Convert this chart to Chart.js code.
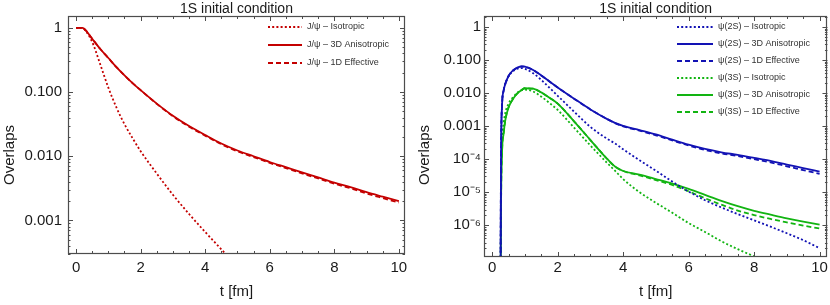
<!DOCTYPE html>
<html>
<head>
<meta charset="utf-8">
<script src="https://cdn.jsdelivr.net/npm/chart.js@4/dist/chart.umd.min.js"></script>
<style>
html, body { margin: 0; padding: 0; background: #fff; }
#wrap { display: flex; width: 830px; height: 305px; }
canvas { display: block; }
</style>
</head>
<body>
<div id="wrap">
  <canvas id="leftChart" width="415" height="305"></canvas>
  <canvas id="rightChart" width="415" height="305"></canvas>
</div>
<script>
//DATA
//left panel: J/psi overlaps, time in fm
const timeLeft = [0, 0.2, 0.3, 0.5, 0.75, 1, 1.25, 1.5, 1.75, 2, 2.5, 3, 3.5, 4, 4.5, 5, 5.5, 6, 6.5, 7, 7.5, 8, 8.5, 9, 9.5, 10];
const jpsiIso = [1, 1, 0.891, 0.603, 0.269, 0.117, 0.0575, 0.0316, 0.0191, 0.0120, 0.00537, 0.00251, 0.00126, 0.000661, 0.000355, 0.000191,
    null, null, null, null, null, null, null, null, null, null];
const jpsi3D = [1, 1, 0.912, 0.676, 0.468, 0.339, 0.245, 0.182, 0.138, 0.107, 0.0661, 0.0427, 0.0295, 0.0214, 0.0158, 0.0123,
    0.0100, 0.00813, 0.00676, 0.00562, 0.00468, 0.00389, 0.00331, 0.00275, 0.00234, 0.00200];
const jpsi1D = [1, 1, 0.912, 0.676, 0.468, 0.339, 0.245, 0.182, 0.138, 0.107, 0.0655, 0.0420, 0.0289, 0.0209, 0.0154, 0.0119,
    0.0097, 0.00788, 0.00653, 0.00542, 0.00450, 0.00374, 0.00317, 0.00263, 0.00223, 0.00190];

//right panel: psi(2S) and psi(3S) overlaps
const timeRight = [0.25, 0.27, 0.3, 0.35, 0.4, 0.5, 0.6, 0.7, 0.8, 0.9, 1, 1.25, 1.5, 1.75, 2, 2.5, 3, 3.5, 3.75, 4, 4.5, 5, 5.5, 6, 6.5, 7, 7.5, 8, 8.5, 9, 9.5, 10];
const psi2SIso = [1e-9, 1e-4, 0.004, 0.012, 0.019, 0.032, 0.043, 0.051, 0.056, 0.057, 0.054, 0.040, 0.025, 0.0145, 0.0083, 0.00275, 0.00095, 0.00042, 0.0003, 0.0002,
    0.000093, 0.000045, 0.000021, 0.0000105, 0.00000575, 0.00000347, 0.00000219, 0.00000141, 0.00000091, 0.000000575, 0.000000355, 0.000000204];
const psi2S3D = [1e-9, 1e-4, 0.004, 0.012, 0.019, 0.033, 0.045, 0.054, 0.061, 0.064, 0.063, 0.050, 0.034, 0.0224, 0.0148, 0.0068, 0.0032, 0.00166, 0.00126, 0.00102,
    0.00076, 0.00056, 0.00039, 0.000275, 0.000204, 0.000162, 0.000135, 0.00011, 0.000089, 0.000069, 0.000054, 0.000042];
const psi2S1D = [1e-9, 1e-4, 0.004, 0.012, 0.019, 0.033, 0.045, 0.054, 0.061, 0.064, 0.063, 0.050, 0.034, 0.0224, 0.0148, 0.0068, 0.0032, 0.00166, 0.00124, 0.00099,
    0.00073, 0.00053, 0.00037, 0.00026, 0.00019, 0.00015, 0.000124, 0.0001, 0.00008, 0.000061, 0.000047, 0.000036];
const psi3SIso = [1e-10, 1e-5, 3e-4, 0.0012, 0.0025, 0.0048, 0.0068, 0.0088, 0.0108, 0.0122, 0.0127, 0.0112, 0.0078, 0.0050, 0.0031, 0.0009, 0.00026, 0.000079, 0.000045, 0.000025,
    0.00001, 0.0000048, 0.0000024, 0.00000117, 0.00000063, 0.00000033, 0.00000019, 0.000000115, 0.00000007, null, null, null];
const psi3S3D = [1e-10, 3e-6, 1.5e-4, 6e-4, 0.0015, 0.0037, 0.0058, 0.0082, 0.0105, 0.0125, 0.0140, 0.0136, 0.0105, 0.0072, 0.0048, 0.0014, 0.00038, 0.000105, 0.00006, 0.000044,
    0.000034, 0.000025, 0.0000182, 0.0000126, 0.0000083, 0.0000055, 0.0000038, 0.00000275, 0.0000021, 0.00000162, 0.00000129, 0.00000105];
const psi3S1D = [1e-10, 3e-6, 1.5e-4, 6e-4, 0.0015, 0.0037, 0.0058, 0.0082, 0.0105, 0.0125, 0.0140, 0.0136, 0.0105, 0.0072, 0.0048, 0.0014, 0.00038, 0.000105, 0.00006, 0.000044,
    0.0000325, 0.0000233, 0.0000166, 0.0000107, 0.0000066, 0.0000042, 0.0000028, 0.00000204, 0.00000156, 0.00000123, 0.00000098, 0.0000008];

//labels
const titleText = '1S initial condition';
const xTitle = 't [fm]';
const yTitle = 'Overlaps';
const leftLabels = ['J/\u03C8 \u2013 Isotropic', 'J/\u03C8 \u2013 3D Anisotropic', 'J/\u03C8 \u2013 1D Effective'];
const rightLabels = ['\u03C8(2S) \u2013 Isotropic', '\u03C8(2S) \u2013 3D Anisotropic', '\u03C8(2S) \u2013 1D Effective',
    '\u03C8(3S) \u2013 Isotropic', '\u03C8(3S) \u2013 3D Anisotropic', '\u03C8(3S) \u2013 1D Effective'];

//STYLE
const FONT = '"Liberation Sans", Arial, sans-serif';
const textColor = '#1a1a1a';
const frameColor = '#4d4d4d';
const red = '#c40000';
const blue = '#1212b4';
const green = '#12b412';
const dotted = [2, 2.2];
const dashed = [5, 3];

Chart.defaults.font.family = FONT;
Chart.defaults.color = textColor;

const toPoints = (times, values) => times.map((t, i) => ({x: t, y: values[i]})).filter(p => p.y !== null);

const line = (label, times, values, color, dash) => ({
    label: label,
    data: toPoints(times, values),
    borderColor: color,
    borderWidth: 1.8,
    borderDash: dash,
    pointRadius: 0,
    cubicInterpolationMode: 'monotone',
    fill: false,
    clip: 0,
});

const superDigits = {'-': '\u207B', '0': '\u2070', '1': '\u00B9', '2': '\u00B2', '3': '\u00B3', '4': '\u2074', '5': '\u2075', '6': '\u2076', '7': '\u2077', '8': '\u2078', '9': '\u2079'};
const logLabel = (v) => {
    const e = Math.round(Math.log10(v));
    if (e === 0) return '1';
    if (e >= -3) return v.toFixed(3);
    return '10' + String(e).split('').map(c => superDigits[c]).join('');
};

//ticks 1..9 x 10^n inside the range, only powers of ten get a label
const logTicks = (scale) => {
    const ticks = [];
    for (let e = -8; e <= 0; e++) {
        for (let s = 1; s <= 9; s++) {
            const v = s * Math.pow(10, e);
            if (v >= scale.min && v <= scale.max) ticks.push({value: v, major: s === 1});
        }
    }
    scale.ticks = ticks;
};
const timeTicks = (scale) => {
    const ticks = [];
    for (let i = 0; i <= 20; i++) ticks.push({value: i * 0.5, major: i % 4 === 0});
    scale.ticks = ticks;
};

//frame with inward ticks, y title and the legend inside the plot
const frameTicks = {
    id: 'frameTicks',
    afterDatasetsDraw(chart, args, opts) {
        const {ctx, chartArea: a, scales: {x, y}} = chart;
        ctx.save();
        ctx.strokeStyle = frameColor;
        ctx.lineWidth = 1;
        ctx.setLineDash([]);
        ctx.beginPath();
        x.ticks.forEach(t => {
            if (t.value < x.min || t.value > x.max) return;
            const px = Math.round(x.getPixelForValue(t.value)) + 0.5;
            const len = t.major ? 5 : 3;
            ctx.moveTo(px, a.bottom); ctx.lineTo(px, a.bottom - len);
            ctx.moveTo(px, a.top); ctx.lineTo(px, a.top + len);
        });
        y.ticks.forEach(t => {
            const py = Math.round(y.getPixelForValue(t.value)) + 0.5;
            const len = t.major ? 5 : 2.5;
            ctx.moveTo(a.left, py); ctx.lineTo(a.left + len, py);
            ctx.moveTo(a.right, py); ctx.lineTo(a.right - len, py);
        });
        ctx.stroke();
        ctx.lineWidth = 1.2;
        ctx.strokeRect(Math.round(a.left) + 0.5, Math.round(a.top) + 0.5, Math.round(a.width) - 1, Math.round(a.height) - 1);

        //y axis title
        ctx.fillStyle = textColor;
        ctx.font = '15px ' + FONT;
        ctx.textAlign = 'center';
        ctx.textBaseline = 'middle';
        ctx.translate(opts.yTitleX, opts.yTitleY);
        ctx.rotate(-Math.PI / 2);
        ctx.fillText(yTitle, 0, 0);
        ctx.setTransform(1, 0, 0, 1, 0, 0);

        //legend
        ctx.font = '9px ' + FONT;
        ctx.textAlign = 'left';
        chart.data.datasets.forEach((ds, i) => {
            const ly = opts.legendY + i * opts.legendStep;
            ctx.strokeStyle = ds.borderColor;
            ctx.lineWidth = ds.borderWidth;
            ctx.setLineDash(ds.borderDash || []);
            ctx.beginPath();
            ctx.moveTo(opts.legendX, ly);
            ctx.lineTo(opts.legendX + opts.legendLen, ly);
            ctx.stroke();
            ctx.fillStyle = '#333';
            ctx.fillText(ds.label, opts.legendX + opts.legendLen + 5, ly);
        });
        ctx.restore();
    }
};

const makeOptions = (yMin, yMax, xMax, yWidth, xHeight, tickPad, xTickPad, frameOpts) => ({
    responsive: false,
    animation: false,
    devicePixelRatio: 1,
    layout: {padding: {left: 0, right: 415 - yWidth - frameOpts.plotWidth, top: 0, bottom: 0}},
    plugins: {
        legend: {display: false},
        tooltip: {enabled: false},
        title: {
            display: true,
            text: titleText,
            fullSize: false,
            color: textColor,
            font: {size: 14, weight: 'normal', lineHeight: '13px'},
            padding: {top: 3, bottom: 0},
        },
        frameTicks: frameOpts,
    },
    scales: {
        x: {
            type: 'linear',
            min: -0.25,
            max: xMax,
            afterBuildTicks: timeTicks,
            afterFit: (s) => { s.height = xHeight; },
            grid: {display: false, drawTicks: false},
            border: {display: false},
            ticks: {
                autoSkip: false,
                maxRotation: 0,
                padding: xTickPad,
                color: textColor,
                font: {size: 15},
                callback: (v, i, ticks) => ticks[i].major ? String(ticks[i].value) : '',
            },
            title: {display: true, text: xTitle, color: textColor, font: {size: 15}, padding: {top: 0, bottom: 4}},
        },
        y: {
            type: 'logarithmic',
            min: yMin,
            max: yMax,
            afterBuildTicks: logTicks,
            afterFit: (s) => { s.width = yWidth; },
            grid: {display: false, drawTicks: false},
            border: {display: false},
            ticks: {
                autoSkip: false,
                padding: tickPad,
                color: textColor,
                font: {size: 15},
                callback: (v, i, ticks) => ticks[i].major ? logLabel(ticks[i].value) : '',
            },
        },
    },
});

//config
const configLeft = {
    type: 'line',
    data: {
        datasets: [
            line(leftLabels[0], timeLeft, jpsiIso, red, dotted),
            line(leftLabels[1], timeLeft, jpsi3D, red, []),
            line(leftLabels[2], timeLeft, jpsi1D, red, dashed),
        ]
    },
    options: makeOptions(3.4e-4, 1.53, 10.19, 68, 51, 6, 5,
        {plotWidth: 337, yTitleX: 10, yTitleY: 155, legendX: 268, legendY: 27, legendStep: 18, legendLen: 34}),
    plugins: [frameTicks],
};
const configRight = {
    type: 'line',
    data: {
        datasets: [
            line(rightLabels[0], timeRight, psi2SIso, blue, dotted),
            line(rightLabels[1], timeRight, psi2S3D, blue, []),
            line(rightLabels[2], timeRight, psi2S1D, blue, dashed),
            line(rightLabels[3], timeRight, psi3SIso, green, dotted),
            line(rightLabels[4], timeRight, psi3S3D, green, []),
            line(rightLabels[5], timeRight, psi3S1D, green, dashed),
        ]
    },
    options: makeOptions(1.1e-7, 2.15, 10.24, 69, 48, 3, 2,
        {plotWidth: 344, yTitleX: 10, yTitleY: 155, legendX: 262, legendY: 27, legendStep: 17, legendLen: 36}),
    plugins: [frameTicks],
};

//render
const leftChart = new Chart(document.getElementById('leftChart').getContext('2d'), configLeft);
const rightChart = new Chart(document.getElementById('rightChart').getContext('2d'), configRight);
</script>
</body>
</html>
